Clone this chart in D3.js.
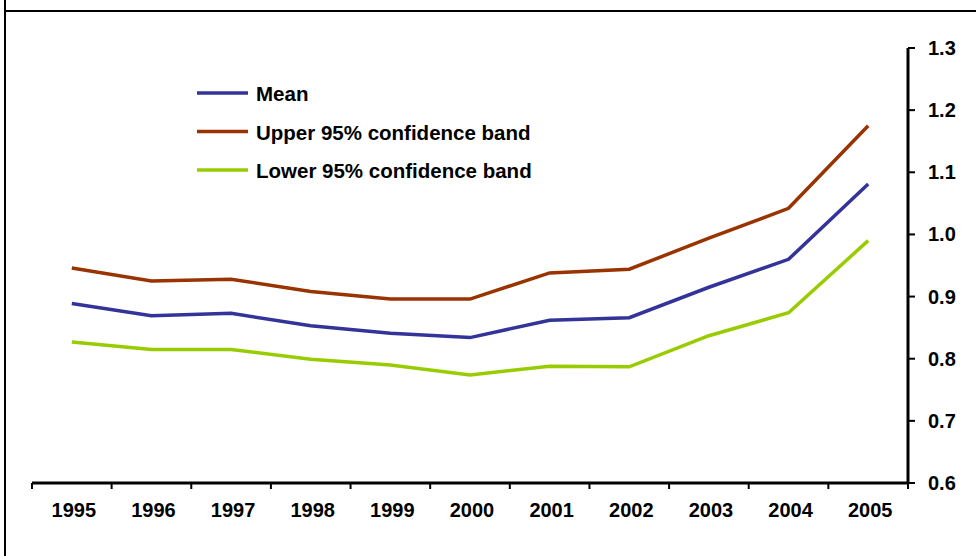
<!DOCTYPE html>
<html><head><meta charset="utf-8">
<script src="https://cdn.jsdelivr.net/npm/d3@7"></script>
<style>body{margin:0;background:#fff}svg{display:block}</style>
</head><body>
<script>
const years = ["1995","1996","1997","1998","1999","2000","2001","2002","2003","2004","2005"];
const meanValues  = [0.889,0.869,0.873,0.853,0.841,0.834,0.862,0.866,0.915,0.960,1.081];
const upperValues = [0.946,0.925,0.928,0.908,0.896,0.896,0.938,0.944,0.994,1.042,1.175];
const lowerValues = [0.827,0.815,0.815,0.799,0.790,0.774,0.788,0.787,0.837,0.874,0.990];
const yTicks = [0.6,0.7,0.8,0.9,1.0,1.1,1.2,1.3];
const seriesNames = ["Mean","Upper 95% confidence band","Lower 95% confidence band"];
const seriesColors = ["#333399","#993300","#99CC00"];

const W=976,H=556;
const svg=d3.select("body").append("svg").attr("width",W).attr("height",H);
// frame
svg.append("line").attr("x1",5).attr("x2",5).attr("y1",0).attr("y2",H).attr("stroke","#000").attr("stroke-width",2);
svg.append("line").attr("x1",5).attr("x2",W).attr("y1",11).attr("y2",11).attr("stroke","#000").attr("stroke-width",2);

const x=d3.scaleBand().domain(years).range([32,908]);
const y=d3.scaleLinear().domain([0.6,1.3]).range([483,48]);
const font="Arial, 'Liberation Sans', sans-serif";

// x axis
const xa=svg.append("g").attr("transform","translate(0,483)");
xa.append("line").attr("x1",32).attr("x2",908).attr("stroke","#000").attr("stroke-width",3);
const bounds=years.map(d=>x(d)).concat([x(years[years.length-1])+x.bandwidth()]);
xa.selectAll("line.t").data(bounds).join("line").attr("class","t")
  .attr("x1",d=>d).attr("x2",d=>d).attr("y1",0).attr("y2",6).attr("stroke","#000").attr("stroke-width",2);
xa.selectAll("text").data(years).join("text")
  .attr("x",d=>x(d)+x.bandwidth()/2+2).attr("y",34).attr("text-anchor","middle")
  .attr("font-family",font).attr("font-weight","bold").attr("font-size",20).text(d=>d);

// y axis
const ya=svg.append("g").attr("transform","translate(908,0)");
ya.append("line").attr("y1",y(0.6)).attr("y2",y(1.3)).attr("stroke","#000").attr("stroke-width",3);
ya.selectAll("line.t").data(yTicks).join("line").attr("class","t")
  .attr("x1",0).attr("x2",7).attr("y1",d=>y(d)).attr("y2",d=>y(d)).attr("stroke","#000").attr("stroke-width",2);
ya.selectAll("text").data(yTicks).join("text")
  .attr("x",20).attr("y",d=>y(d)+7).attr("font-family",font).attr("font-weight","bold").attr("font-size",20)
  .text(d=>d.toFixed(1));

// lines
const line=d3.line().x((d,i)=>x(years[i])+x.bandwidth()/2).y(d=>y(d));
[meanValues,upperValues,lowerValues].forEach((vals,k)=>{
  svg.append("path").datum(vals).attr("d",line).attr("fill","none")
    .attr("stroke",seriesColors[k]).attr("stroke-width",3.5).attr("stroke-linejoin","miter");
});

// legend
seriesNames.forEach((n,k)=>{
  const yy=93+k*38.5;
  svg.append("line").attr("x1",197).attr("x2",248).attr("y1",yy).attr("y2",yy)
    .attr("stroke",seriesColors[k]).attr("stroke-width",3.5);
  svg.append("text").attr("x",256).attr("y",yy+8).attr("font-family",font).attr("font-weight","bold")
    .attr("font-size",20.5).text(n);
});
</script>
</body></html>
